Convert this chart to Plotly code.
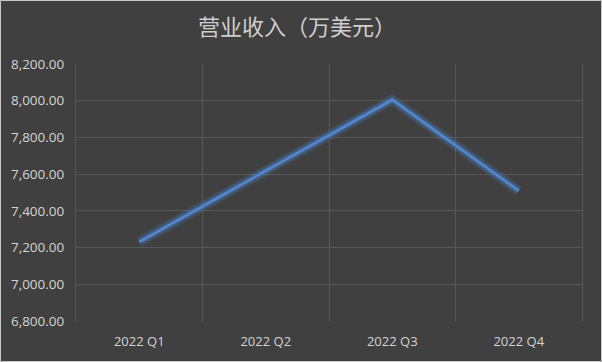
import plotly.graph_objects as go

categories = ["2022 Q1", "2022 Q2", "2022 Q3", "2022 Q4"]
revenue = [7231, 7618, 8005, 7509]
title_text = "营业收入（万美元）"

W, H = 602, 362
ML, MR, MT, MB = 76, 20, 64, 41

bg = "#404040"
grid = "#575757"
txt = "#d4d4d4"
line_col = "#4f88d3"

fig = go.Figure()
# glow layers
for w, a in [(11, 0.12), (8, 0.18), (5, 0.28)]:
    fig.add_trace(go.Scatter(x=categories, y=revenue, mode="lines",
                             line=dict(color=f"rgba(79,136,211,{a})", width=w),
                             hoverinfo="skip", showlegend=False))
fig.add_trace(go.Scatter(x=categories, y=revenue, mode="lines",
                         line=dict(color=line_col, width=2.5),
                         showlegend=False))

pw = W - ML - MR
ph = H - MT - MB
fig.add_shape(type="rect", xref="paper", yref="paper",
              x0=-(ML - 0.5) / pw, x1=1 + (MR - 0.5) / pw,
              y0=-(MB - 0.5) / ph, y1=1 + (MT - 0.5) / ph,
              line=dict(color="#c8c8c8", width=1), layer="below")

fig.update_layout(
    width=W, height=H,
    margin=dict(l=ML, r=MR, t=MT, b=MB),
    paper_bgcolor=bg, plot_bgcolor=bg,
    title=dict(text=title_text, x=(W / 2 - 4 - ML) / pw, xref="paper", xanchor="center",
               y=1 - 27 / H, yanchor="middle", yref="container",
               font=dict(family="Noto Sans CJK SC", size=22, color="#cfcfcf")),
    font=dict(family="Open Sans", size=13.5, color=txt),
    xaxis=dict(type="category", range=[-0.5, 3.5], tickson="boundaries",
               showgrid=True, gridcolor=grid, gridwidth=1,
               ticks="", ticklabelstandoff=11, showline=False, zeroline=False,
               tickfont=dict(color=txt, size=13)),
    yaxis=dict(range=[6800, 8200], dtick=200, tickformat=",.2f",
               showgrid=True, gridcolor=grid, gridwidth=1,
               ticks="", ticklabelstandoff=8, showline=True, mirror=True,
               linecolor=grid, linewidth=1, zeroline=False,
               tickfont=dict(color=txt)),
)

fig.write_html("out.html")
